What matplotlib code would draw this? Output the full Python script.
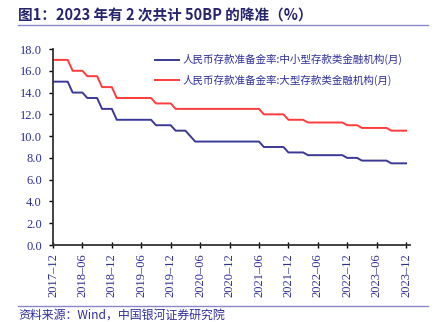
import matplotlib
matplotlib.use("Agg")
import matplotlib.pyplot as plt
from matplotlib.lines import Line2D

plt.rcParams['font.family'] = ['Noto Sans CJK SC', 'DejaVu Sans']
plt.rcParams['axes.unicode_minus'] = False

# monthly, 2017-12 .. 2023-12
months = ([f"2017-12"] +
          [f"{y}-{m:02d}" for y in range(2018, 2024) for m in range(1, 13)])

large = ([17.0] * 4 + [16.0] * 3 + [15.5] * 3 + [14.5] * 3 + [13.5] * 8 +
         [13.0] * 4 + [12.5] * 18 + [12.0] * 5 + [11.5] * 4 + [11.25] * 8 +
         [11.0] * 3 + [10.75] * 6 + [10.5] * 4)
small = ([15.0] * 4 + [14.0] * 3 + [13.5] * 3 + [12.5] * 3 + [11.5] * 8 +
         [11.0] * 4 + [10.5] * 3 + [10.0] * 1 + [9.5] * 14 + [9.0] * 5 +
         [8.5] * 4 + [8.25] * 8 + [8.0] * 3 + [7.75] * 6 + [7.5] * 4)

label_small = "人民币存款准备金率:中小型存款类金融机构(月)"
label_large = "人民币存款准备金率:大型存款类金融机构(月)"
title = "图1：2023 年有 2 次共计 50BP 的降准（%）"
source = "资料来源：Wind，中国银河证券研究院"

blue = '#3B3896'
red = '#FF3B3B'
txt = '#2E2E9A'

fig = plt.figure(figsize=(4.42, 3.22), dpi=100)
ax = fig.add_axes([53 / 442, 77 / 322, 357 / 442, 196 / 322])

x = list(range(len(months)))
ax.plot(x, small, color=blue, lw=1.4, label=label_small)
ax.plot(x, large, color=red, lw=1.4, label=label_large)

ax.set_xlim(0, 72.8)
ax.set_ylim(0, 18)
ax.set_yticks([0, 2, 4, 6, 8, 10, 12, 14, 16, 18])
ax.set_yticklabels([f"{v:.1f}" for v in range(0, 19, 2)],
                   family='Liberation Serif', color=txt, fontsize=9)
ax.set_xticks(x[::6])
ax.set_xticklabels([m.replace("-", "–") for m in months[::6]],
                   rotation=90, family='Liberation Serif', color=txt, fontsize=9)
ax.tick_params(axis='x', direction='inout', length=4, width=1, pad=4)
ax.tick_params(axis='y', direction='out', length=3, width=1, pad=5)

for s in ['top', 'right']:
    ax.spines[s].set_visible(False)
for s in ['left', 'bottom']:
    ax.spines[s].set_color('#333333')
    ax.spines[s].set_linewidth(1.3)

fig.legend(loc='upper left', bbox_to_anchor=(150 / 442, 1 - 49 / 322),
           frameon=False, fontsize=7.6, handlelength=2.2, handletextpad=0.35,
           labelspacing=0.85, borderpad=0, labelcolor=txt)

fig.text(18 / 442, 1 - 15 / 322, title, fontsize=10.5, fontweight='bold',
         color='#26246E', va='center', ha='left')
fig.add_artist(Line2D([18 / 442, 428 / 442], [1 - 25 / 322, 1 - 25 / 322],
                      color='#8A86C8', lw=1))
fig.add_artist(Line2D([18 / 442, 428 / 442], [1 - 306 / 322, 1 - 306 / 322],
                      color='#8A86C8', lw=1))
fig.text(18 / 442, 1 - 315 / 322, source, fontsize=8.6, style='italic',
         color=txt, va='center', ha='left')

fig.savefig("out.png", dpi=100)
